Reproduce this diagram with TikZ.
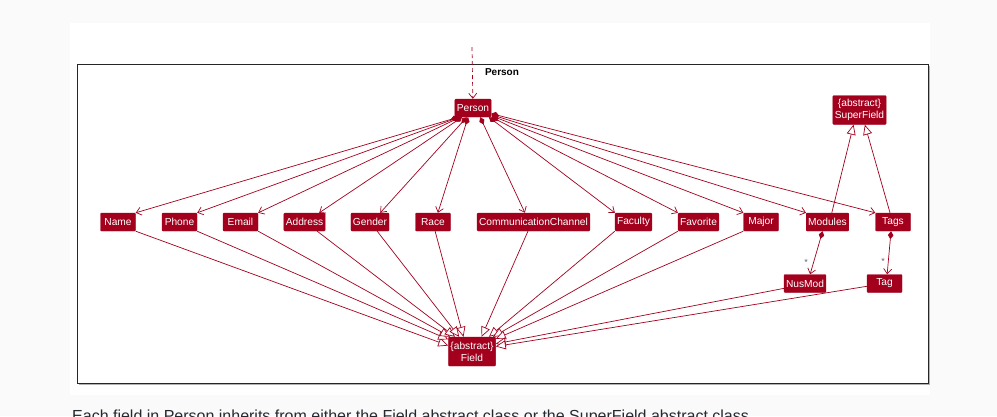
\documentclass[tikz,border=0pt]{standalone}
\usepackage{fontspec}
\setmainfont{Liberation Sans}
\usetikzlibrary{arrows.meta,calc}
\definecolor{umlred}{HTML}{A2001D}
\definecolor{pagebg}{HTML}{FAFAFA}
\definecolor{prose}{HTML}{24292F}

\begin{document}
\begin{tikzpicture}[x=1pt,y=-1pt,
cls/.style = {draw=umlred, fill=umlred, text=white, rounded corners=1pt, inner xsep=2pt, inner ysep=0pt, minimum width=35pt, minimum height=18pt, font=\fontsize{10.2}{12}\selectfont},
absCls/.style = {cls, align=center, minimum height=29pt},
owns/.style = {draw=umlred, line width=0.7pt, {Diamond[length=8pt,width=5.5pt]}-{Straight Barb[length=5pt,width=8pt]}},
isa/.style = {draw=umlred, line width=0.7pt, -{Triangle[open,length=10pt,width=9pt,fill=white]}},
mult/.style = {text=black!60, inner sep=0pt, font=\fontsize{9}{10}\selectfont},
]
\fill[pagebg] (0,0) rectangle (997,416);
\useasboundingbox (0,0) rectangle (997,416);
\fill[white] (70,23) rectangle (930,395);
\fill[black!30] (79,66) rectangle (930,385);
\draw[black!85, fill=white, line width=0.8pt] (77,64) rectangle (928,383);
\node[font=\bfseries\fontsize{10}{12}\selectfont, inner sep=0pt] (pkgname) at (502,72) {Person};
\node[anchor=base west, text=prose, inner sep=0pt, font=\fontsize{16}{19}\selectfont] (caption) at (72,421) {Each field in Person inherits from either the Field abstract class or the SuperField abstract class.};

\node[cls] (Person) at (473,108) {Person};
\node[absCls] (SuperField) at (859.5,110) {\{abstract\}\\SuperField};
\node[cls] (Name) at (118,222) {Name};
\node[cls] (Phone) at (179.5,222) {Phone};
\node[cls] (Email) at (240.5,222) {Email};
\node[cls] (Address) at (304.5,222) {Address};
\node[cls] (Gender) at (370,222) {Gender};
\node[cls] (Race) at (433,222) {Race};
\node[cls] (Comm) at (533.5,222) {CommunicationChannel};
\node[cls] (Faculty) at (633.5,222) {Faculty};
\node[cls] (Favorite) at (698.5,222) {Favorite};
\node[cls] (Major) at (761,222) {Major};
\node[cls] (Modules) at (827.5,222) {Modules};
\node[cls] (Tags) at (893,222) {Tags};
\node[cls] (NusMod) at (805,283.5) {NusMod};
\node[cls] (Tag) at (884.5,283.5) {Tag};
\node[absCls] (Field) at (472,351.5) {\{abstract\}\\Field};
\node[mult] (nusStar) at (806,262) {*};
\node[mult] (tagStar) at (883,261) {*};
\coordinate (entry) at (472,47);

\draw[umlred, line width=0.7pt, dash pattern=on 4pt off 3pt, -{Straight Barb[length=5pt,width=8pt]}] (entry)--(Person);

\draw[owns] (Person.212)--(Name.north east);
\draw[owns] (Person.214)--(Phone.north east);
\draw[owns] (Person.216)--(Email.north east);
\draw[owns] (Person.220)--(Address.32);
\draw[owns] (Person.236)--(Gender.42);
\draw[owns] (Person.242)--(Race.62);
\draw[owns] (Person.308)--(Comm.133);
\draw[owns] (Person.330)--(Faculty.north west);
\draw[owns] (Person.334)--(Favorite.north west);
\draw[owns] (Person.337)--(Major.north west);
\draw[owns] (Person.340)--(Modules.north west);
\draw[owns] (Person.343)--(Tags.north west);
\draw[owns] (Modules.242)--(NusMod.61);
\draw[owns] (Tags.258)--(Tag.74);

\draw[isa] (Name.south east)--(Field.166);
\draw[isa] (Phone.south east)--(Field.153);
\draw[isa] (Email.south east)--(Field.146);
\draw[isa] (Address.-36)--(Field.139);
\draw[isa] (Gender.-52)--(Field.131);
\draw[isa] (Race.-77)--(Field.120);
\draw[isa] (Comm.239)--(Field.57);
\draw[isa] (Faculty.south west)--(Field.41);
\draw[isa] (Favorite.south west)--(Field.35);
\draw[isa] (Major.south west)--(Field.28);
\draw[isa] (NusMod.193)--(Field.18);
\draw[isa] (Tag.189)--(Field.12);
\draw[isa] (Modules.65)--(SuperField.248);
\draw[isa] (Tags.108)--(SuperField.290);
\end{tikzpicture}
\end{document}
